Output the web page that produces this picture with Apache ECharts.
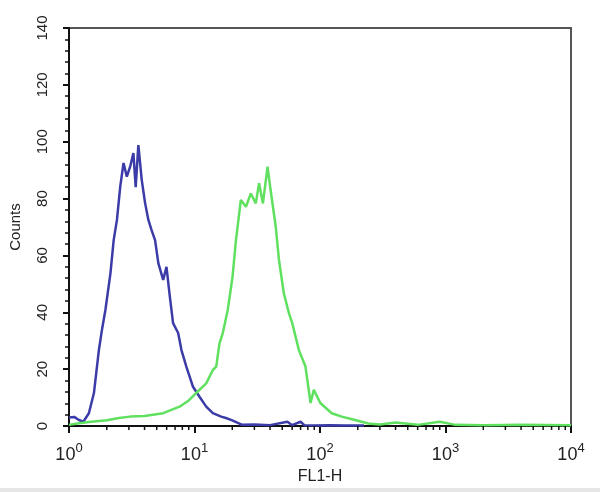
<!DOCTYPE html>
<html><head><meta charset="utf-8">
<script src="https://cdn.jsdelivr.net/npm/echarts@6/dist/echarts.min.js"></script>
<style>html,body{margin:0;padding:0;background:#fff}#c{width:600px;height:492px}</style>
</head><body><div id="c"></div>
<script>
var blueX = [1.0, 1.1, 1.2, 1.3, 1.44, 1.58, 1.73, 1.83, 1.95, 2.14, 2.27, 2.41, 2.56, 2.72, 2.89, 3.07, 3.26, 3.4, 3.57, 3.8, 4.04, 4.29, 4.55, 4.85, 5.15, 5.63, 5.98, 6.36, 6.75, 7.41, 7.87, 8.61, 9.73, 10.96, 12.4, 14.0, 16.3, 17.8, 20, 24, 30, 40, 55, 60, 70, 75, 90, 120, 160, 224];
var blueY = [3, 3.2, 2.1, 1.5, 4.5, 11.6, 26.7, 33.8, 40.8, 53.8, 65.4, 72.5, 84.2, 92.5, 87.7, 91.2, 96, 84, 98.8, 86.5, 78.4, 72.5, 68.9, 65.4, 57.3, 51.4, 56, 45.5, 36.2, 32.7, 26.7, 20.9, 13.8, 10.3, 6.8, 4.5, 3.3, 2.8, 2, 0.4, 0.5, 0.3, 1.5, 0.3, 1.5, 0.3, 0.2, 0.3, 0.2, 0.2];
var greenX = [1.0, 1.2, 1.5, 2, 2.5, 3.07, 4, 5.63, 7.6, 9.0, 10.3, 12.4, 14.0, 14.9, 15.8, 16.8, 18.4, 20.1, 21.4, 23.4, 25.7, 28.1, 30.8, 32.7, 35.1, 38.2, 40.4, 44.4, 47.1, 51.5, 56.6, 60.1, 67.9, 76.6, 84.1, 89.3, 100.6, 124, 149, 190, 242, 300, 400, 600, 900, 1200, 2000, 4000, 10000];
var greenY = [0.4, 1, 1.5, 2, 2.8, 3.3, 3.5, 4.5, 6.8, 9, 11.6, 15, 19.7, 20.9, 29, 32.7, 40.8, 52.5, 65.4, 79.5, 77.1, 81.8, 78.3, 85.4, 78.3, 91.2, 83, 70.1, 58.4, 46.7, 39.6, 36.2, 26.7, 20.9, 8.1, 12.7, 8.1, 4.5, 3.3, 2.1, 0.9, 0.5, 1.2, 0.4, 1.5, 0.4, 0.3, 0.4, 0.3];
var xTickExps = ['0', '1', '2', '3', '4'];
var yTicks = [0, 20, 40, 60, 80, 100, 120, 140];

function pairs(xs, ys) { return xs.map(function (x, i) { return [x, ys[i]]; }); }
var minorX = [];
for (var k = 0; k < 4; k++) for (var m = 2; m <= 9; m++) minorX.push([m * Math.pow(10, k), 0]);

var chart = echarts.init(document.getElementById('c'));
chart.setOption({
  animation: false,
  backgroundColor: '#fff',
  grid: { left: 65, right: 29, top: 28, bottom: 66, show: true, borderColor: '#555', borderWidth: 2 },
  xAxis: {
    type: 'log', logBase: 10, min: 1, max: 10000,
    name: 'FL1-H', nameLocation: 'middle', nameGap: 42,
    nameTextStyle: { fontFamily: 'Liberation Sans', fontSize: 16, color: '#222' },
    axisLine: { lineStyle: { color: '#111', width: 2 } },
    axisTick: { length: 7, lineStyle: { color: '#111', width: 2 } },
    splitLine: { show: false },
    axisLabel: {
      margin: 16,
      formatter: function (v) {
        var e = Math.round(Math.log10(v));
        return '{b|10}{s|' + xTickExps[e] + '}';
      },
      rich: {
        b: { fontFamily: 'Liberation Sans', fontSize: 18, color: '#222', verticalAlign: 'bottom' },
        s: { fontFamily: 'Liberation Sans', fontSize: 13, color: '#222', verticalAlign: 'top', padding: [0, 0, 9, 0] }
      }
    }
  },
  yAxis: {
    type: 'value', min: 0, max: 140, interval: 20,
    name: 'Counts', nameLocation: 'middle', nameGap: 46, nameRotate: 90,
    nameTextStyle: { fontFamily: 'Liberation Sans', fontSize: 15, color: '#222' },
    axisLine: { show: true, lineStyle: { color: '#111', width: 2 } },
    axisTick: { show: true, length: 6, lineStyle: { color: '#111', width: 2 } },
    minorTick: { show: true, splitNumber: 5, length: 4, lineStyle: { color: '#111', width: 1.5 } },
    splitLine: { show: false },
    axisLabel: {
      rotate: 90, margin: 19, fontFamily: 'Liberation Sans', fontSize: 15, color: '#222',
      formatter: function (v) { return yTicks.indexOf(v) >= 0 ? String(v) : ''; }
    }
  },
  series: [
    {
      type: 'custom', silent: true, clip: false, z: 5,
      data: minorX,
      renderItem: function (params, api) {
        var p = api.coord([api.value(0), api.value(1)]);
        return { type: 'line', shape: { x1: p[0], y1: p[1], x2: p[0], y2: p[1] + 4 }, style: { stroke: '#111', lineWidth: 1.5 } };
      }
    },
    {
      type: 'line', data: pairs(blueX, blueY), showSymbol: false, z: 3,
      lineStyle: { color: '#3c3ca8', width: 2.5 }
    },
    {
      type: 'line', data: pairs(greenX, greenY), showSymbol: false, z: 4,
      lineStyle: { color: '#5fe05f', width: 2.5 }
    }
  ],
  graphic: [{ type: 'rect', shape: { x: 0, y: 488, width: 600, height: 4 }, style: { fill: '#e6e6e6' } }]
});
</script></body></html>
